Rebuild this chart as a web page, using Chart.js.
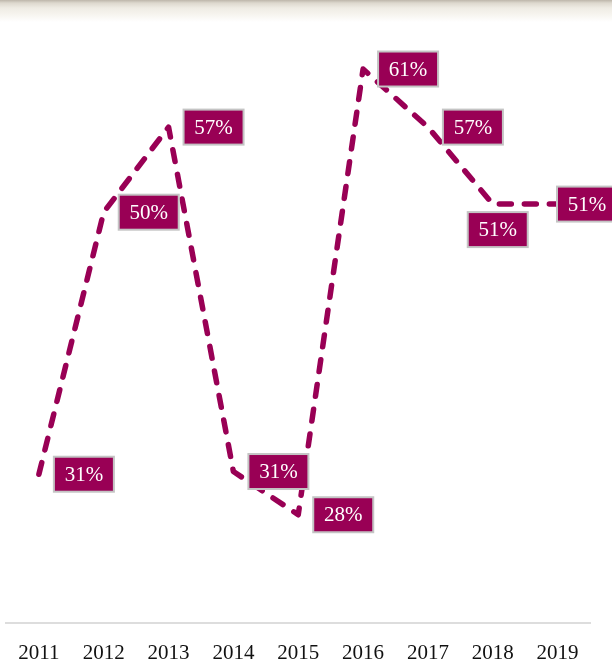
<!DOCTYPE html>
<html>
<head>
<meta charset="utf-8">
<script src="https://cdn.jsdelivr.net/npm/chart.js@4"></script>
<style>
  html, body { margin: 0; padding: 0; background: #fff; overflow: hidden; }
  #wrap { position: relative; width: 612px; height: 666px; overflow: hidden; }
  #band {
    position: absolute; left: 0; top: 0; width: 612px; height: 22px;
    background: linear-gradient(to bottom, #bdb6aa 0px, #ddd8ce 3px, #efece4 8px, #f7f5f0 15px, #ffffff 22px);
  }
  canvas { position: absolute; left: 0; top: 0; }
</style>
</head>
<body>
<div id="wrap">
  <div id="band"></div>
  <canvas id="lineChart" width="612" height="684"></canvas>
</div>
<script>
const years = ['2011', '2012', '2013', '2014', '2015', '2016', '2017', '2018', '2019'];
const shares = [31, 50.4, 56.7, 31.2, 28, 61, 56.7, 51, 51];
const labelSide = ['right', 'right', 'right', 'right', 'right', 'right', 'right', 'below', 'right'];

const plum = '#990055';
const serif = '"Liberation Serif", "DejaVu Serif", serif';

// Boxed percentage labels next to each point
const boxLabels = {
  id: 'boxLabels',
  afterDatasetsDraw(chart) {
    const ctx = chart.ctx;
    const meta = chart.getDatasetMeta(0);
    ctx.save();
    ctx.font = '21px ' + serif;
    ctx.textAlign = 'center';
    ctx.textBaseline = 'middle';
    meta.data.forEach((pt, i) => {
      const text = Math.round(shares[i]) + '%';
      const w = 60, h = 35;
      let left, top;
      if (labelSide[i] === 'below') {
        left = pt.x - w / 2 + 5;
        top = pt.y + 8;
      } else {
        left = Math.min(pt.x + 15, chart.width - 55);
        top = pt.y - h / 2;
      }
      ctx.fillStyle = plum;
      ctx.fillRect(left, top, w, h);
      ctx.strokeStyle = '#c4c4c4';
      ctx.lineWidth = 2;
      ctx.strokeRect(left, top, w, h);
      ctx.fillStyle = '#ffffff';
      ctx.fillText(text, left + w / 2, top + h / 2 + 1);
    });
    ctx.restore();
  }
};

document.addEventListener('DOMContentLoaded', () => {
  const ctx = document.getElementById('lineChart').getContext('2d');
  new Chart(ctx, {
    type: 'line',
    data: {
      labels: years,
      datasets: [{
        data: shares,
        borderColor: plum,
        borderWidth: 5.5,
        borderDash: [12, 13],
        borderCapStyle: 'round',
        borderJoinStyle: 'round',
        pointRadius: 0,
        tension: 0,
        fill: false
      }]
    },
    options: {
      responsive: false,
      animation: false,
      layout: { padding: { left: 5, right: 22, top: 15, bottom: 0 } },
      plugins: { legend: { display: false }, tooltip: { enabled: false } },
      scales: {
        x: {
          offset: true,
          grid: { display: false, drawTicks: false },
          border: { display: true, color: '#dddddd', width: 2 },
          ticks: { color: '#111111', font: { family: serif, size: 21 }, padding: 18 }
        },
        y: {
          display: false,
          min: 20,
          max: 65
        }
      }
    },
    plugins: [boxLabels]
  });
});
</script>
</body>
</html>
